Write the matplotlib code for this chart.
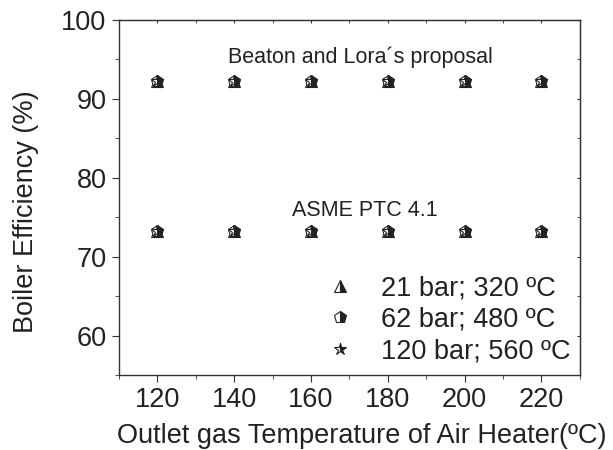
import matplotlib
matplotlib.use("Agg")
import matplotlib.pyplot as plt

plt.rcParams['font.family'] = ['Liberation Sans', 'DejaVu Sans']

temps = [120, 140, 160, 180, 200, 220]
beaton_21 = [92.3, 92.3, 92.3, 92.3, 92.3, 92.3]
beaton_62 = [92.3, 92.3, 92.3, 92.3, 92.3, 92.3]
beaton_120 = [92.3, 92.3, 92.3, 92.3, 92.3, 92.3]
asme_21 = [73.3, 73.3, 73.3, 73.3, 73.3, 73.3]
asme_62 = [73.3, 73.3, 73.3, 73.3, 73.3, 73.3]
asme_120 = [73.3, 73.3, 73.3, 73.3, 73.3, 73.3]
series_labels = ['21 bar; 320 ºC', '62 bar; 480 ºC', '120 bar; 560 ºC']
x_ticks = [120, 140, 160, 180, 200, 220]
y_ticks = [60, 70, 80, 90, 100]

fig = plt.figure(figsize=(6.13, 4.5), dpi=100)
ax = fig.add_axes([0.194, 0.1667, 0.752, 0.7889])

col = '#222222'
styles = [
    dict(marker='^', ms=9),
    dict(marker='p', ms=9),
    dict(marker='*', ms=9),
]
for data_b, data_a, st, lab in zip([beaton_21, beaton_62, beaton_120],
                                    [asme_21, asme_62, asme_120], styles, series_labels):
    ax.plot(temps, data_b, linestyle='none', marker=st['marker'], ms=st['ms'],
            mfc=col, mfcalt='white', fillstyle='right', mec=col, mew=0.8, label=lab)
    ax.plot(temps, data_a, linestyle='none', marker=st['marker'], ms=st['ms'],
            mfc=col, mfcalt='white', fillstyle='right', mec=col, mew=0.8)

ax.text(173, 95.3, 'Beaton and Lora´s proposal', ha='center', va='center', fontsize=15.5, color='#222222')
ax.text(174, 75.9, 'ASME PTC 4.1', ha='center', va='center', fontsize=15.5, color='#222222')

ax.set_xlim(110, 230)
ax.set_ylim(55, 100)
ax.set_xticks(x_ticks)
ax.set_yticks(y_ticks)
ax.set_xticks(range(110, 231, 10), minor=True)
ax.set_yticks(range(55, 101, 5), minor=True)
ax.tick_params(axis='both', which='major', direction='out', length=5, labelsize=19.5,
               colors='#333333', labelcolor='#222222', pad=4)
ax.tick_params(axis='both', which='minor', direction='out', length=3, colors='#333333')
for s in ax.spines.values():
    s.set_color('#333333')
    s.set_linewidth(1.0)

top = ax.secondary_xaxis('top')
top.set_xticks(x_ticks)
top.set_xticks(range(110, 231, 10), minor=True)
top.tick_params(which='both', direction='in', length=2, labeltop=False, colors='#333333')
top.spines['top'].set_color('#333333')
right = ax.secondary_yaxis('right')
right.set_yticks(y_ticks)
right.set_yticks(range(55, 101, 5), minor=True)
right.tick_params(which='both', direction='in', length=2, labelright=False, colors='#333333')
right.spines['right'].set_color('#333333')

ax.set_xlabel('Outlet gas Temperature of Air Heater(ºC)', fontsize=19.5, color='#222222', labelpad=2)
ax.xaxis.set_label_coords(0.526, -0.135)
ax.set_ylabel('Boiler Efficiency (%)', fontsize=19.5, color='#222222')
ax.yaxis.set_label_coords(-0.174, 0.46)

leg = ax.legend(loc='lower right', bbox_to_anchor=(1.015, -0.015), frameon=False, fontsize=19.5,
                markerfirst=True, handletextpad=1.0, labelspacing=0.2, borderaxespad=0.2,
                handlelength=1.0)
for t in leg.get_texts():
    t.set_color('#222222')
    t.set_ha('right')

fig.savefig('out.png', dpi=100)
